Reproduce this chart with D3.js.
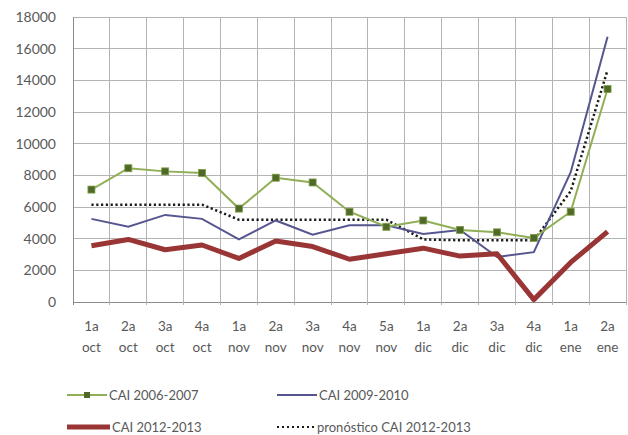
<!DOCTYPE html>
<html><head><meta charset="utf-8">
<script src="https://cdn.jsdelivr.net/npm/d3@7"></script>
<style>body{margin:0;background:#fff}svg{display:block}text{font-family:Lato,"Open Sans",sans-serif;fill:#595959}</style>
</head><body><svg id="c" width="628" height="435"></svg>
<script>
const weeks = ["1a","2a","3a","4a","1a","2a","3a","4a","5a","1a","2a","3a","4a","1a","2a"];
const months = ["oct","oct","oct","oct","nov","nov","nov","nov","nov","dic","dic","dic","dic","ene","ene"];
const yTicks = [0,2000,4000,6000,8000,10000,12000,14000,16000,18000];
const cai0607 = [7100,8450,8250,8150,5900,7850,7550,5700,4750,5150,4550,4400,4050,5700,13450];
const cai0910 = [5250,4750,5500,5250,3950,5150,4250,4850,4850,4300,4550,2850,3150,8200,16750];
const cai1213 = [3550,3950,3300,3600,2750,3850,3500,2700,3050,3400,2900,3050,150,2500,4450];
const pron1213 = [6150,6150,6150,6150,5200,5200,5200,5200,5200,3950,3900,3900,3900,7000,14650];
const seriesNames = ["CAI 2006-2007","CAI 2009-2010","CAI 2012-2013","pronóstico CAI 2012-2013"];

const svg = d3.select("#c");
const L=73,R=626,T=17,B=302;
const idx = d3.range(weeks.length);
const x = d3.scaleBand().domain(idx).range([L,R]);
const y = d3.scaleLinear().domain([0,18000]).range([B,T]);
const cx = i => x(i)+x.bandwidth()/2;

// grid
const g = svg.append("g");
g.selectAll(".h").data(yTicks).join("line")
  .attr("x1",L).attr("x2",R).attr("y1",d=>y(d)).attr("y2",d=>y(d))
  .attr("stroke",d=>d===0?"#8c8c8c":"#b3b3b3").attr("stroke-width",1).attr("shape-rendering","crispEdges");
g.selectAll(".v").data(d3.range(weeks.length+1)).join("line")
  .attr("x1",i=>i<weeks.length?x(i):R).attr("x2",i=>i<weeks.length?x(i):R)
  .attr("y1",T).attr("y2",B+3)
  .attr("stroke",i=>i===0?"#8c8c8c":"#b3b3b3").attr("stroke-width",1).attr("shape-rendering","crispEdges");

// y axis labels
const ya = d3.axisLeft(y).tickValues(yTicks).tickSize(0).tickPadding(0).tickFormat(d3.format("d"));
const yg = svg.append("g").attr("transform",`translate(56,0)`).call(ya);
yg.select(".domain").remove();
yg.selectAll("text").attr("font-size",14).style("fill","#595959").style("font-family","Lato, sans-serif");

// x labels
const xl = svg.append("g");
xl.selectAll(".w").data(idx).join("text").attr("x",cx).attr("y",331).attr("text-anchor","middle").attr("font-size",13.5).text(i=>weeks[i]);
xl.selectAll(".m").data(idx).join("text").attr("x",cx).attr("y",352).attr("text-anchor","middle").attr("font-size",13.5).text(i=>months[i]);

const line = d3.line().x((d,i)=>cx(i)).y(d=>y(d));

svg.append("path").datum(pron1213).attr("d",line).attr("fill","none").attr("stroke","#1a1a1a").attr("stroke-width",2.5).attr("stroke-dasharray","2.2,2.6");
svg.append("path").datum(cai0910).attr("d",line).attr("fill","none").attr("stroke","#55558f").attr("stroke-width",2);
svg.append("path").datum(cai1213).attr("d",line).attr("fill","none").attr("stroke","#9a3535").attr("stroke-width",5).attr("stroke-linejoin","round");
svg.append("path").datum(cai0607).attr("d",line).attr("fill","none").attr("stroke","#8fae55").attr("stroke-width",2);
svg.selectAll(".mk").data(cai0607).join("rect")
  .attr("x",(d,i)=>cx(i)-3.5).attr("y",d=>y(d)-3.5).attr("width",7).attr("height",7)
  .attr("fill","#4f6a28").attr("stroke","#7f9c45").attr("stroke-width",0.8);

// legend
const lg = svg.append("g");
function item(x0,x1,yy,name,draw){ draw(x0,x1,yy); lg.append("text").attr("x",x1+2).attr("y",yy+4.5).attr("font-size",13).text(name); }
item(67,107,395,seriesNames[0],(a,b,yy)=>{
  lg.append("line").attr("x1",a).attr("x2",b).attr("y1",yy).attr("y2",yy).attr("stroke","#8fae55").attr("stroke-width",2);
  lg.append("rect").attr("x",(a+b)/2-3).attr("y",yy-3).attr("width",6).attr("height",6).attr("fill","#4f6a28");
});
item(277,317,395,seriesNames[1],(a,b,yy)=>{
  lg.append("line").attr("x1",a).attr("x2",b).attr("y1",yy).attr("y2",yy).attr("stroke","#55558f").attr("stroke-width",2);
});
item(67,110,427,seriesNames[2],(a,b,yy)=>{
  lg.append("line").attr("x1",a).attr("x2",b).attr("y1",yy).attr("y2",yy).attr("stroke","#9a3535").attr("stroke-width",5);
});
item(277,315,427,seriesNames[3],(a,b,yy)=>{
  lg.append("line").attr("x1",a).attr("x2",b).attr("y1",yy).attr("y2",yy).attr("stroke","#1a1a1a").attr("stroke-width",2).attr("stroke-dasharray","2,3");
});
</script></body></html>
